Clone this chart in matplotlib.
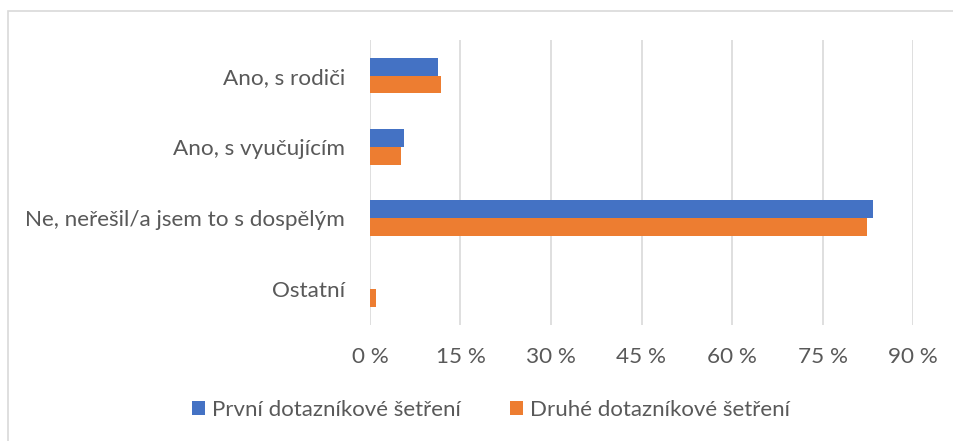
import matplotlib.pyplot as plt
import numpy as np
from matplotlib.patches import Rectangle

# Data (share of respondents)
categories = ["Ano, s rodiči", "Ano, s vyučujícím", "Ne, neřešil/a jsem to s dospělým", "Ostatní"]
prvni = [0.112, 0.056, 0.833, 0.0]
druhe = [0.118, 0.051, 0.823, 0.010]
series_names = ["První dotazníkové šetření", "Druhé dotazníkové šetření"]
tick_values = [0, 0.15, 0.30, 0.45, 0.60, 0.75, 0.90]
tick_labels = ["0 %", "15 %", "30 %", "45 %", "60 %", "75 %", "90 %"]

blue = "#4472C4"
orange = "#ED7D31"
text_grey = "#595959"
grid_grey = "#D9D9D9"

plt.rcParams['font.family'] = ['Lato', 'DejaVu Sans']

fig = plt.figure(figsize=(9.54, 4.41), dpi=100)
W, H = 954, 441
ax = fig.add_axes([370 / W, 1 - 325 / H, (913 - 370) / W, (325 - 40) / H])

y = np.arange(len(categories))
h = 0.25
ax.barh(y - h / 2, prvni, height=h, color=blue, label=series_names[0])
ax.barh(y + h / 2, druhe, height=h, color=orange, label=series_names[1])

ax.set_ylim(len(categories) - 0.5, -0.5)
ax.set_xlim(0, 0.9)
ax.set_yticks(y)
ax.set_yticklabels(categories)
ax.set_xticks(tick_values)
ax.set_xticklabels(tick_labels)
ax.tick_params(axis='both', length=0, labelsize=16.2, colors=text_grey)
ax.tick_params(axis='y', pad=18)
ax.tick_params(axis='x', pad=16)

ax.grid(axis='x', color=grid_grey, linewidth=1.2)
ax.set_axisbelow(True)
for s in ax.spines.values():
    s.set_visible(False)

leg = fig.legend(loc='center', bbox_to_anchor=(491 / W, 1 - 410 / H), ncol=2,
                 frameon=False, fontsize=16, handlelength=0.6, handleheight=0.6,
                 handletextpad=0.3, columnspacing=2.2)
for t in leg.get_texts():
    t.set_color(text_grey)

# outer chart border
fig.patches.append(Rectangle((8 / W, -0.05), 1.2, 1 - 11 / H + 0.05, transform=fig.transFigure,
                             fill=False, edgecolor=grid_grey, linewidth=1.2))

fig.savefig("out.png", dpi=100)
